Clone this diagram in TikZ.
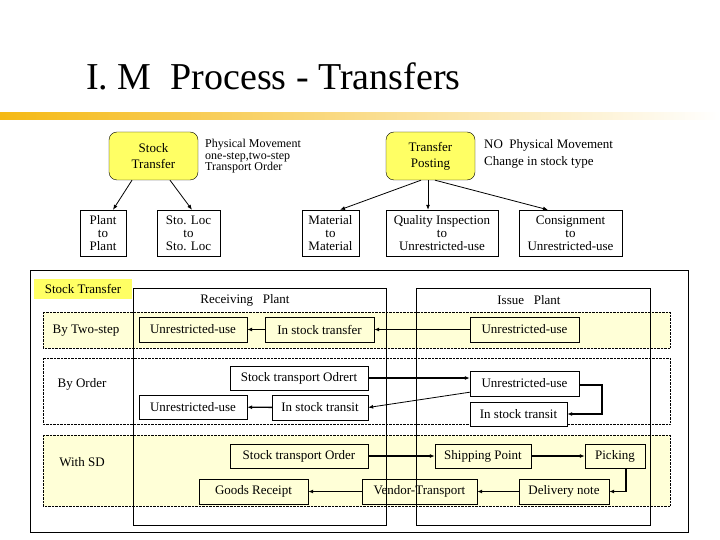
\documentclass[tikz,border=0pt]{standalone}
\usepackage{fontspec}
\setmainfont{Liberation Serif}
\usetikzlibrary{arrows.meta,positioning}
\definecolor{pale}{RGB}{255,255,215}
\definecolor{hili}{RGB}{255,255,100}
\definecolor{bar}{RGB}{245,185,20}
\tikzset{
  box/.style={draw, fill=white, inner sep=2pt, align=center, font=\fontsize{13}{13}\selectfont},
  head/.style={draw, rounded corners=8pt, fill=hili, align=center, font=\fontsize{13}{16}\selectfont},
  band/.style={draw, densely dotted},
  arr/.style={-{Latex[length=5pt,width=4pt]}, line width=1.4pt},
  note/.style={align=left, anchor=north west, font=\fontsize{12}{11.5}\selectfont, inner sep=0pt}
}
\begin{document}
\begin{tikzpicture}[x=1pt,y=-1pt]
\useasboundingbox (0,0) rectangle (720,540);
% title and bar
\node[anchor=base west, font=\fontsize{38}{38}\selectfont, inner sep=0pt] (title) at (86,90) {I. M\ \ Process - Transfers};
\shade[left color=bar, right color=white] (0,113) rectangle (720,120);
% top part
\node[head, minimum width=89, minimum height=48] (st) at (153.5,156) {Stock\\Transfer};
\node[note] (stn) at (205,139) {Physical Movement\\one-step,two-step\\Transport Order};
\node[head, minimum width=89, minimum height=48] (tp) at (430.5,156) {Transfer\\Posting};
\node[note, font=\fontsize{13}{17}\selectfont] (tpn) at (484,139) {NO\ \ Physical Movement\\Change in stock type};
\tikzset{small/.style={draw, align=center, minimum height=46, inner sep=1pt, font=\fontsize{13}{13}\selectfont}}
\node[small, minimum width=46] (pp) at (103,233) {Plant\\to\\Plant};
\node[small, minimum width=63] (sl) at (188.5,233) {Sto. Loc\\to\\Sto. Loc};
\node[small, minimum width=57] (mm) at (330.5,233) {Material\\to\\Material};
\node[small, minimum width=112] (qi) at (442,233) {Quality Inspection\\to\\Unrestricted-use};
\node[small, minimum width=103] (cs) at (570.5,233) {Consignment\\to\\Unrestricted-use};
\draw[arr, thick] (st.south -| 132,0) -- (pp.north -| 113,0);
\draw[arr, thick] (st.south -| 170,0) -- (sl.north -| 192,0);
\draw[arr, thick] (tp.south -| 421,0) -- (mm.north -| 340,0);
\draw[arr, thick] (tp.south -| 428,0) -- (qi.north -| 428,0);
\draw[arr, thick] (tp.south -| 435,0) -- (cs.north -| 548,0);
% lower frame
\draw (30,270) rectangle (688,532);
\fill[pale] (43,312) rectangle (670,348);
\fill[pale] (43,435) rectangle (670,506);
\draw[band] (43,312) rectangle (670,348);
\draw[band] (43,358) rectangle (670,424);
\draw[band] (43,435) rectangle (670,506);
\node[fill=hili, minimum width=98, minimum height=20, font=\fontsize{13}{13}\selectfont, inner sep=0pt] (stl) at (83,289) {Stock Transfer};
\node[font=\fontsize{13}{13}\selectfont] (rp) at (245,300) {Receiving\ \ \ Plant};
\node[font=\fontsize{13}{13}\selectfont] (ip) at (529,300) {Issue\ \ \ Plant};
\node[font=\fontsize{13}{13}\selectfont] (l1) at (86,331) {By Two-step};
\node[font=\fontsize{13}{13}\selectfont] (l2) at (82,384) {By Order};
\node[font=\fontsize{13}{13}\selectfont] (l3) at (82,462) {With SD};
% band 1
\tikzset{bb/.style={box, fill=pale, minimum height=25}}
\node[bb, minimum width=108] (u1) at (193,329.5) {Unrestricted-use};
\node[bb, minimum width=109] (t1) at (319.5,329.5) {In stock transfer};
\node[bb, minimum width=109] (u2) at (524.5,329.5) {Unrestricted-use};
\draw[arr] (u2) -- (t1);
\draw[arr] (t1) -- (u1);
% band 2
\node[box, minimum width=138, minimum height=24] (so) at (299,378) {Stock transport Odrert};
\node[box, minimum width=109, minimum height=25] (u3) at (524.5,383.5) {Unrestricted-use};
\node[box, minimum width=108, minimum height=24] (u4) at (193,407) {Unrestricted-use};
\node[box, minimum width=96, minimum height=25] (t2) at (320,407.5) {In stock transit};
\node[box, minimum width=97, minimum height=24] (t3) at (518.5,414) {In stock transit};
\coordinate (k1) at (602,385);
\draw[arr] (so) -- (u3.west |- so);
\draw[arr] (u3.east |- k1) -- (k1) |- (t3.east);
\draw[arr, thick] (u3.south west) ++(0,-4) -- (t2.east);
\draw[arr] (t2) -- (u4);
% plant frames drawn over the nodes
\draw (133,288) rectangle (386,525);
\draw (416,288) rectangle (650,525);
% band 3
\node[bb, minimum width=138, minimum height=24] (sto) at (299,456) {Stock transport Order};
\node[bb, minimum width=96, minimum height=24] (sp) at (483,456) {Shipping Point};
\node[bb, minimum width=60, minimum height=24] (pk) at (615,456) {Picking};
\node[bb, minimum width=109, minimum height=25] (gr) at (253.5,491.5) {Goods Receipt};
\node[bb, minimum width=115, minimum height=25, fill=none] (vt) at (419.5,491.5) {Vendor-Transport};
\node[bb, minimum width=90, minimum height=25] (dn) at (564,491.5) {Delivery note};
\coordinate (k2) at (626,491.5);
\draw[arr] (sto) -- (sp);
\draw[arr] (sp) -- (pk);
\draw[arr] (pk.south -| k2) -- (k2) -- (dn.east);
\draw[arr] (dn) -- (vt);
\draw[arr] (vt) -- (gr);
\end{tikzpicture}
\end{document}
